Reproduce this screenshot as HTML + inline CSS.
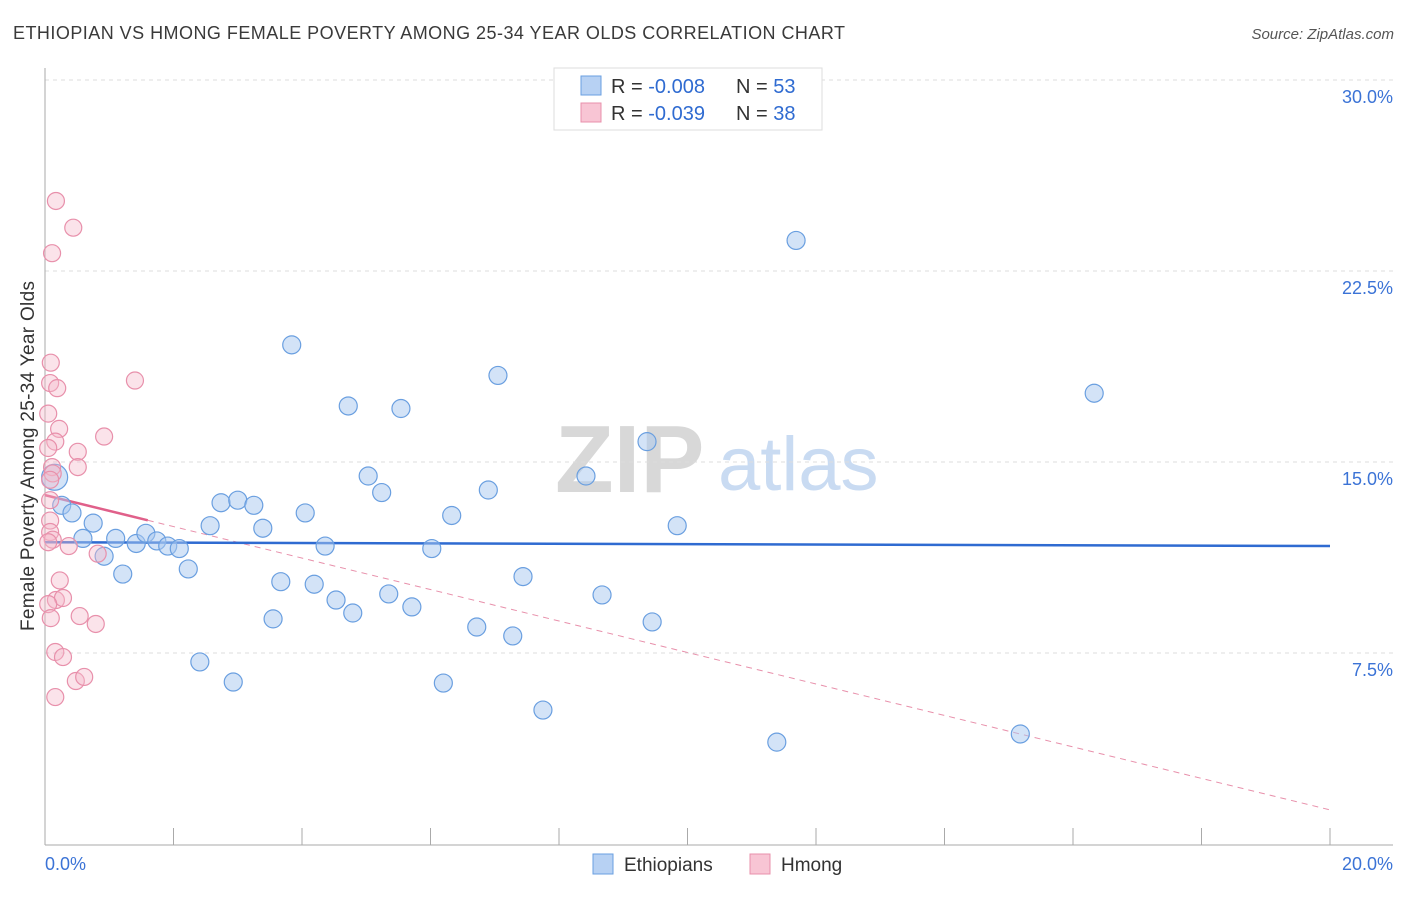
<!DOCTYPE html>
<html><head><meta charset="utf-8"><style>
body{margin:0;background:#fff;font-family:"Liberation Sans",sans-serif;}
svg text{font-family:"Liberation Sans",sans-serif;}
</style></head><body>
<svg id="chart" width="1406" height="892" viewBox="0 0 1406 892" xmlns="http://www.w3.org/2000/svg">
<text x="13" y="39" font-size="18" fill="#3a3a3a" textLength="832" lengthAdjust="spacing">ETHIOPIAN VS HMONG FEMALE POVERTY AMONG 25-34 YEAR OLDS CORRELATION CHART</text>
<text x="1394" y="39" font-size="15" fill="#555" text-anchor="end" font-style="italic">Source: ZipAtlas.com</text>
<g>
<text x="555" y="492" font-size="96" fill="#d8d8d8" font-family="Liberation Serif" font-weight="bold">ZIP</text>
<text x="718" y="490" font-size="76" fill="#c9dbf2">atlas</text>
</g>
<g id="grid"></g>
<g id="axes"></g>
<g id="trends"></g>
<g id="points"></g>
<g>
<rect x="554" y="68" width="268" height="62" fill="#fff" stroke="#ddd"/>
<rect x="581" y="76" width="20" height="19" fill="#b7d1f3" stroke="#6a9fe0"/>
<rect x="581" y="103" width="20" height="19" fill="#f8c5d4" stroke="#e890ab"/>
<text x="611" y="93" font-size="20" fill="#333">R = <tspan fill="#2f6bd1">-0.008</tspan><tspan x="736">N = </tspan><tspan fill="#2f6bd1">53</tspan></text>
<text x="611" y="120" font-size="20" fill="#333">R = <tspan fill="#2f6bd1">-0.039</tspan><tspan x="736">N = </tspan><tspan fill="#2f6bd1">38</tspan></text>
</g>
<g>
<rect x="593" y="854" width="20" height="20" fill="#b7d1f3" stroke="#6a9fe0"/>
<text x="624" y="871" font-size="19" fill="#333">Ethiopians</text>
<rect x="750" y="854" width="20" height="20" fill="#f8c5d4" stroke="#e890ab"/>
<text x="781" y="871" font-size="19" fill="#333">Hmong</text>
</g>
<text transform="translate(34,456) rotate(-90)" font-size="19" fill="#333" text-anchor="middle" textLength="350" lengthAdjust="spacing">Female Poverty Among 25-34 Year Olds</text>
</svg>
<script>
const yTicks=[7.5,15.0,22.5,30.0];
const yTickLabels=["7.5%","15.0%","22.5%","30.0%"];
const xTickLabels=["0.0%","20.0%"];
const ethX=[0.15,0.26,0.42,0.59,0.75,0.92,1.1,1.21,1.42,1.57,1.74,1.91,2.09,2.23,2.41,2.57,2.74,2.93,3.0,3.25,3.39,3.55,3.67,3.84,4.05,4.19,4.36,4.53,4.72,4.79,5.03,5.24,5.35,5.54,5.71,6.02,6.2,6.33,6.72,6.9,7.05,7.28,7.44,7.75,8.42,8.67,9.37,9.45,9.84,11.39,11.69,15.18,16.33];
const ethY=[14.4,13.3,13.0,12.0,12.6,11.3,12.0,10.6,11.8,12.2,11.9,11.7,11.6,10.8,7.15,12.5,13.4,6.36,13.5,13.3,12.4,8.84,10.3,19.6,13.0,10.2,11.7,9.58,17.2,9.07,14.45,13.8,9.82,17.1,9.31,11.6,6.32,12.9,8.52,13.9,18.4,8.17,10.5,5.26,14.45,9.78,15.8,8.72,12.5,4.0,23.7,4.32,17.7];
const hmX=[0.17,0.44,0.11,0.09,0.08,0.19,1.4,0.05,0.22,0.16,0.92,0.05,0.51,0.51,0.11,0.12,0.08,0.08,0.08,0.08,0.12,0.05,0.37,0.82,0.23,0.17,0.28,0.05,0.54,0.79,0.09,0.16,0.28,0.48,0.61,0.16];
const hmY=[25.25,24.2,23.2,18.9,18.1,17.9,18.2,16.9,16.3,15.8,16.0,15.55,15.4,14.8,14.8,14.55,14.3,13.5,12.7,12.25,11.95,11.85,11.7,11.4,10.35,9.58,9.66,9.42,8.95,8.64,8.87,7.54,7.34,6.4,6.56,5.77];
const ethTrend=[11.85,11.7];
const hmTrend=[13.7,1.34];
const hmSolidEnd=1.6;

const NS="http://www.w3.org/2000/svg";
const X=v=>45+v/20*1285;
const Y=v=>844-v/7.5*191;
function mk(tag,attrs,parent){const e=document.createElementNS(NS,tag);for(const k in attrs)e.setAttribute(k,attrs[k]);document.getElementById(parent).appendChild(e);return e;}
yTicks.forEach((t,i)=>{
  const l=mk('line',{x1:45,x2:1393,y1:Y(t),y2:Y(t),stroke:'#ddd','stroke-dasharray':'4,4'},'grid');
  
  
  const tx=mk('text',{x:1393,y:Y(t)+23,'font-size':18,fill:'#3b73d6','text-anchor':'end'},'grid');
  tx.textContent=yTickLabels[i];
  
  
});
mk('line',{x1:45,x2:45,y1:68,y2:845,stroke:'#aaa'},'axes');
mk('line',{x1:45,x2:1393,y1:845,y2:845,stroke:'#aaa'},'axes');
for(let i=1;i<=10;i++){const t=mk('line',{x1:X(i*2),x2:X(i*2),y1:828,y2:845,stroke:'#aaa'},'axes');
  
  }
const xl0=mk('text',{x:45,y:870,'font-size':18,fill:'#3b73d6'},'axes');xl0.textContent=xTickLabels[0];


const xl1=mk('text',{x:1393,y:870,'font-size':18,fill:'#3b73d6','text-anchor':'end'},'axes');xl1.textContent=xTickLabels[1];


ethX.forEach((x,i)=>{const c=mk('circle',{cx:X(x),cy:Y(ethY[i]),r:i===0?13:9,fill:'rgba(168,200,240,0.5)',stroke:'#6a9fe0','stroke-width':1.2},'points');
  
  });
hmX.forEach((x,i)=>{const c=mk('circle',{cx:X(x),cy:Y(hmY[i]),r:8.5,fill:'rgba(244,184,203,0.4)',stroke:'#e890ab','stroke-width':1.2},'points');
  
  });
const hy=x=>hmTrend[0]+(hmTrend[1]-hmTrend[0])*x/20;
const d=mk('line',{x1:X(hmSolidEnd),y1:Y(hy(hmSolidEnd)),x2:X(20),y2:Y(hmTrend[1]),stroke:'#e890ab','stroke-width':1,'stroke-dasharray':'6,5'},'trends');


const s=mk('line',{x1:X(0),y1:Y(hmTrend[0]),x2:X(hmSolidEnd),y2:Y(hy(hmSolidEnd)),stroke:'#e0608a','stroke-width':2.5},'trends');


const b=mk('line',{x1:X(0),y1:Y(ethTrend[0]),x2:X(20),y2:Y(ethTrend[1]),stroke:'#2f6bd1','stroke-width':2.5},'trends');


</script>
</body></html>
